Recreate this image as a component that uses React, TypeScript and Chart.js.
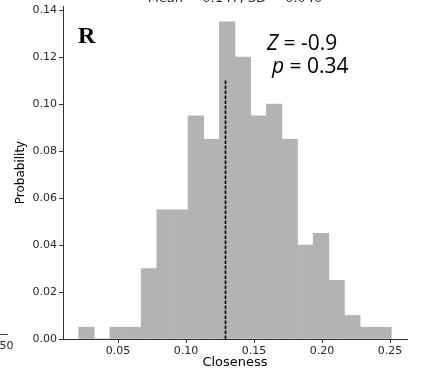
import React, { useEffect, useRef } from "react";
import { Chart, registerables } from "chart.js";

Chart.register(...registerables);

// Histogram bin edges (Closeness)
const binEdges = [
  0.021, 0.0325, 0.044, 0.0555, 0.067, 0.0785, 0.09, 0.1015, 0.113, 0.1245,
  0.136, 0.1475, 0.159, 0.1705, 0.182, 0.1935, 0.205, 0.2165, 0.228, 0.2395,
  0.251,
];
// Probability per bin
const probabilities = [
  0.005, 0, 0.005, 0.005, 0.03, 0.055, 0.055, 0.095, 0.085, 0.135, 0.12, 0.095,
  0.1, 0.085, 0.04, 0.045, 0.025, 0.01, 0.005, 0.005,
];
// Observed value marker (dashed line)
const observedX = 0.129;
const observedTop = 0.11;

const xTicks = [0.05, 0.1, 0.15, 0.2, 0.25];
const yTicks = [0, 0.02, 0.04, 0.06, 0.08, 0.1, 0.12, 0.14];
const xRange = [0.0095, 0.2625];
const yRange = [0, 0.14175];

const titleText = "Mean = 0.147, SD = 0.040";
const panelLabel = "R";
const zLabel = ["Z", " = -0.9"];
const pLabel = ["p", " = 0.34"];
const strayText = "50";

const annotationPlugin = {
  id: "annotations",
  afterDraw(chart: any) {
    const ctx = chart.ctx;
    const area = chart.chartArea;
    ctx.save();
    // clipped title at top
    ctx.fillStyle = "#262626";
    ctx.font = "13px 'DejaVu Sans'";
    ctx.textAlign = "center";
    ctx.textBaseline = "alphabetic";
    ctx.fillText(titleText, (area.left + area.right) / 2, 1.5);

    // panel label
    ctx.fillStyle = "#000";
    ctx.textAlign = "left";
    ctx.font = "bold 24px 'Liberation Serif'";
    ctx.fillText(panelLabel, 78, 43);

    // Z and p
    const drawPair = (parts: string[], x: number, y: number) => {
      ctx.font = "italic 21px 'Open Sans'";
      ctx.fillText(parts[0], x, y);
      const w = ctx.measureText(parts[0]).width;
      ctx.font = "21px 'Open Sans'";
      ctx.fillText(parts[1], x + w, y);
    };
    drawPair(zLabel, 267, 49.5);
    drawPair(pLabel, 272, 73);

    // stray tick text from neighbouring panel
    ctx.fillStyle = "#262626";
    ctx.font = "11px 'DejaVu Sans'";
    ctx.textBaseline = "middle";
    ctx.fillText(strayText, -0.5, 346);
    ctx.strokeStyle = "#444";
    ctx.lineWidth = 1;
    ctx.beginPath();
    ctx.moveTo(0, 334.5);
    ctx.lineTo(8, 334.5);
    ctx.stroke();
    ctx.restore();
  },
};

export default function App() {
  const ref = useRef<HTMLCanvasElement | null>(null);
  useEffect(() => {
    if (!ref.current) return;
    const centers = probabilities.map((_, i) => (binEdges[i] + binEdges[i + 1]) / 2);
    const chart = new Chart(ref.current, {
      type: "bar",
      data: {
        datasets: [
          {
            type: "bar",
            order: 1,
            data: centers.map((c, i) => ({ x: c, y: probabilities[i] })),
            backgroundColor: "#b3b3b3",
            borderWidth: 0,
            barPercentage: 1,
            categoryPercentage: 1,
          } as any,
          {
            type: "line",
            order: 0,
            data: [
              { x: observedX, y: 0 },
              { x: observedX, y: observedTop },
            ],
            borderColor: "#000",
            borderWidth: 1.6,
            borderDash: [3.5, 1.5],
            pointRadius: 0,
            fill: false,
          } as any,
        ],
      },
      options: {
        responsive: false,
        animation: false,
        layout: { padding: { left: 0, right: 18, top: 6, bottom: 0 } },
        plugins: { legend: { display: false }, tooltip: { enabled: false } },
        scales: {
          x: {
            type: "linear",
            offset: false,
            min: xRange[0],
            max: xRange[1],
            afterBuildTicks: (s: any) => {
              s.ticks = xTicks.map((v) => ({ value: v }));
            },
            afterFit: (s: any) => {
              s.height = 31;
              s.paddingLeft = 0;
              s.paddingRight = 0;
            },
            grid: {
              offset: false,
              drawOnChartArea: false,
              drawTicks: true,
              tickLength: 4,
              color: "#333",
            },
            border: { display: true, color: "#333", width: 1 },
            ticks: {
              padding: 2,
              color: "#262626",
              font: { family: "'DejaVu Sans'", size: 11 },
              callback: (v: any) => Number(v).toFixed(2),
              maxRotation: 0,
            },
            title: {
              display: true,
              text: "Closeness",
              color: "#000",
              font: { family: "'DejaVu Sans'", size: 13 },
              padding: { top: 0, bottom: 0 },
            },
          },
          y: {
            type: "linear",
            min: yRange[0],
            max: yRange[1],
            afterBuildTicks: (s: any) => {
              s.ticks = yTicks.map((v) => ({ value: v }));
            },
            afterFit: (s: any) => {
              s.width = 63;
              s.paddingTop = 0;
              s.paddingBottom = 0;
            },
            grid: {
              drawOnChartArea: false,
              drawTicks: true,
              tickLength: 4,
              color: "#333",
            },
            border: { display: true, color: "#333", width: 1 },
            ticks: {
              padding: 2,
              color: "#262626",
              font: { family: "'DejaVu Sans'", size: 11 },
              callback: (v: any) => Number(v).toFixed(2),
            },
            title: {
              display: true,
              text: "Probability",
              color: "#000",
              font: { family: "'DejaVu Sans'", size: 12 },
              padding: { top: 14, bottom: 0 },
            },
          },
        },
      } as any,
      plugins: [annotationPlugin],
    });
    return () => chart.destroy();
  }, []);
  return (
    <div style={{ position: "fixed", left: 0, top: 0, width: 425, height: 370, background: "#fff" }}>
      <canvas ref={ref} width={425} height={370} style={{ display: "block" }} />
    </div>
  );
}
